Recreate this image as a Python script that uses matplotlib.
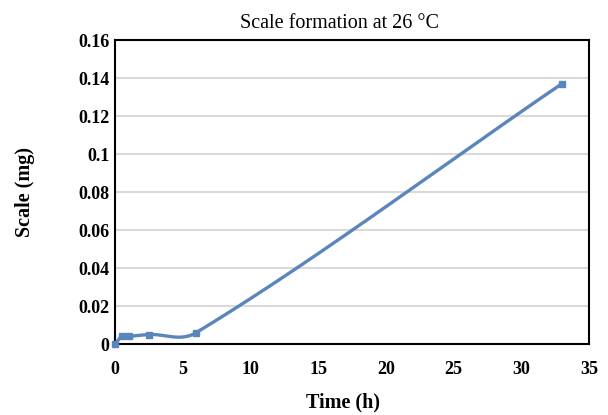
import numpy as np
import matplotlib.pyplot as plt

time_h = [0, 0.5, 1, 2.5, 6, 33]
scale_mg = [0.0, 0.004, 0.004, 0.005, 0.006, 0.137]

plt.rcParams['font.family'] = ['Liberation Serif', 'DejaVu Serif']


def smooth_curve(x, y, n=60):
    # cubic hermite through the points, tangents from neighbours (smoothed line)
    x = np.asarray(x, float)
    y = np.asarray(y, float)
    m = np.zeros_like(y)
    m[0] = (y[1] - y[0]) / (x[1] - x[0])
    m[-1] = (y[-1] - y[-2]) / (x[-1] - x[-2])
    for i in range(1, len(x) - 1):
        m[i] = (y[i + 1] - y[i - 1]) / (x[i + 1] - x[i - 1])
    xs, ys = [], []
    for i in range(len(x) - 1):
        h = x[i + 1] - x[i]
        t = np.linspace(0, 1, n)
        h00 = 2 * t**3 - 3 * t**2 + 1
        h10 = t**3 - 2 * t**2 + t
        h01 = -2 * t**3 + 3 * t**2
        h11 = t**3 - t**2
        xs.append(x[i] + t * h)
        ys.append(h00 * y[i] + h10 * h * m[i] + h01 * y[i + 1] + h11 * h * m[i + 1])
    return np.concatenate(xs), np.concatenate(ys)


fig = plt.figure(figsize=(6.08, 4.15), dpi=100)
# axes box: x 115..589, y 40..344 px
ax = fig.add_axes([115 / 608, 71 / 415, 474 / 608, 304 / 415])

line_color = '#5b85bd'
cx, cy = smooth_curve(time_h, scale_mg)
ax.plot(cx, cy, color=line_color, linewidth=2.4, zorder=3, clip_on=False)
ax.plot(time_h, scale_mg, linestyle='none', marker='s', markersize=4.5,
        color=line_color, zorder=4, clip_on=False)

ax.set_xlim(0, 35)
ax.set_ylim(0, 0.16)
ax.set_xticks(range(0, 36, 5))
ax.set_yticks([0, 0.02, 0.04, 0.06, 0.08, 0.1, 0.12, 0.14, 0.16])
ax.set_yticklabels(['0', '0.02', '0.04', '0.06', '0.08', '0.1', '0.12', '0.14', '0.16'])
ax.yaxis.grid(True, color='#d9d9d9', linewidth=1.5)
ax.set_axisbelow(True)
ax.tick_params(axis='y', length=0, labelsize=13, pad=4)
ax.tick_params(axis='x', length=0, labelsize=13, pad=12)
for lbl in ax.get_xticklabels() + ax.get_yticklabels():
    lbl.set_fontweight('bold')
for sp in ax.spines.values():
    sp.set_linewidth(1.5)
    sp.set_color('black')

ax.set_xlabel('Time (h)', fontsize=14.5, fontweight='bold')
ax.set_ylabel('Scale (mg)', fontsize=14.5, fontweight='bold')
ax.xaxis.set_label_coords((343 - 115) / 474, (344 - 402) / 304)
ax.yaxis.set_label_coords((25 - 115) / 474, 0.5)
ax.xaxis.label.set_va('center')
ax.yaxis.label.set_va('center')

fig.text(340 / 608, 1 - 28 / 415, 'Scale formation at 26 °C', fontsize=14.5,
         ha='center', va='baseline')

fig.savefig('out.png', dpi=100)
